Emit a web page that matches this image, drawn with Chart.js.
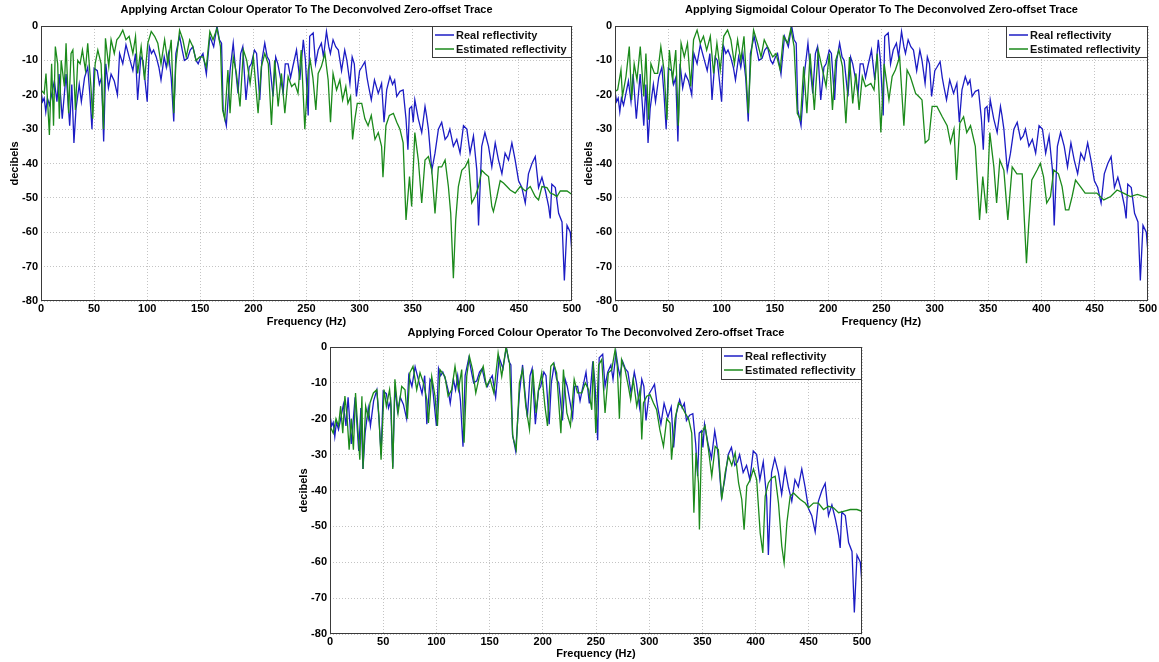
<!DOCTYPE html>
<html>
<head>
<meta charset="UTF-8">
<title>Colour operators - deconvolved zero-offset trace</title>
<script src="https://cdn.jsdelivr.net/npm/chart.js@4.4.0/dist/chart.umd.min.js"></script>
<style>
body { margin:0; background:#fff; width:1159px; height:662px; overflow:hidden; position:relative; }
canvas { position:absolute; }
</style>
</head>
<body>
<canvas id="c1" width="585" height="330" style="left:0;top:0"></canvas>
<canvas id="c2" width="585" height="330" style="left:574px;top:0"></canvas>
<canvas id="c3" width="585" height="337" style="left:289px;top:325px"></canvas>
<script>
// real reflectivity (same in the three panels)
var realFreq = [0,1.5,3,4.5,6,8,10,12.6,15,17, 20,23.6,25,27,29,31,33,36,38,41, 44,46,48,50,53,55,57,59,61,63.5,
  66,69,72,74,77,80,83,86.5,89,91, 94,96,98,100,102,104,106,108.5,111,113, 116,118,120,122.6,125,127,130.5,133,135,138,
  140.5,143,146,148,150.5,152.5,155.7,159,162.6,165.7, 168,170,171.5,174.5,178,181,183,185.5,188,190,
  193,196,198,201,203,206,208,210.7,213,215, 218.5,221,223,226,228,230,232.7,235,237,240.6,
  243.7,247,249,251.6,253,256.3,258.5,261,264,266, 268.8,271,272.5,275,277.5,280,283,286,288,290.9,
  293,295,297,300,302,305,307,308.5,311,314, 317.6,320.7,323,325.5,328.6,331,333,335,338,341,
  343.7,345.5,347,349,350.5,352,355.3,358.5,361.6,363, 364.8,368,371,374.2,377.3,380.5,383,385,388.3,391.5,
  394.6,397.8,401,404,407.2,410.4,412,415,418,421.4, 424.5,427.7,430.8,434,437,440.2,443.4,446.5,449.7,452.8,
  456,459,462.3,465.4,468.5,471.7,475,478,479.5,481, 484.3,487.4,490.6,492.8,495.3,498.4,500];
var realDb = [-19,-22,-21,-25,-21,-23,-20,-16,-22,-14, -27,-14,-20,-29,-17,-34,-24,-17,-22,-15, -12,-20,-30,-12.3,-13,-17,-15,-33.6,-11,-18,
  -14,-16,-20,-8,-11,-5.5,-9,-13,-8,-21.5, -9,-10,-16,-22,-6,-8,-7,-9,-12,-15.7, -9,-12,-8,-15,-27.8,-8,-3,-7,-10,-9.4,
  -7,-6,-10,-11,-9,-8,-14,-3,-6,0, -4,-5,-24.4,-29,-13,-5,-12,-19.6,-8,-6,
  -21.5,-12,-11,-7,-8,-21.5,-10,-5,-9,-10, -20.5,-9,-11,-16,-19.6,-11,-11,-15,-12,-7,
  -15.7,-4,-10,-26,-3,-2,-11,-7,-5,-9, -1.6,-6,-8,-4,-6,-7,-13,-7,-10,-16.7,
  -9,-11,-20.5,-13,-12,-10.4,-15,-17.6,-21.5,-15.7, -19.6,-16.7,-28,-18.6,-14.7,-17,-15.7,-20.5,-19,-18.6,
  -27,-36,-24,-23.4,-28,-21.5,-27,-31,-23.4,-26, -30,-42,-37,-30,-28,-33,-32,-30,-35,-33,
  -37,-29,-30,-37,-32,-42,-58,-35,-31,-35, -41,-34,-39,-43,-37,-39,-34,-39,-45,-47,
  -51.5,-43,-40,-38,-47,-44,-48,-52.5,-56,-46, -47,-54.5,-57,-74,-58,-60,-66];

// estimated reflectivity, arctan operator
var arctanFreq = [0,3,4.7,6.3,7.9,10,11.8,13.5,15.7,17.3, 19,22,23.6,26,28.3,30,32.4,34.6,36.8,39,
  41.8,44,47,48.7,51,53.5,56.6,58.8,60.7,63.8, 66,69,71.4,74,77,80,83,86.5,89,91,
  94.3,97.5,100.6,103.8,107,110,113,116.4,119.5,122.6, 125,127,130.5,133.6,136.8,140,143,146,149.4,152.5,
  155.7,159,162,165.7,169,171,173,176,178,181, 184,187.4,190.6,193.7,196.9,200,204.4,207.5,210.7,214,
  217,220,223.3,226.4,229.6,232.7,236,239,242,245, 248.4,251.6,253.5,256,258.8,261,264,267.3,270.4,272.6,
  275,278.3,281.4,284,287,289,291.5,293.4,295.6,297.8, 302,305,308,311,314.5,317.6,320.7,322,324.8,328,
  331.8,335,338,341,343.7,347,349,352,355.3,358.5, 361.6,364.8,368,371,374.2,377.3,380.5,383.6,385.8,388.3,
  390.5,393,396.2,399.4,402.5,405.6,408.8,412,415,418.2, 421.4,424.5,426,429.3,432.4,435.5,438.7,441.8,446.5,451.3,
  456,460.7,465.4,468.5,471.7,476.4,479.5,482.7,485.8,489, 495.3,500];
var arctanDb = [-18.6,-19.6,-13.8,-22.5,-31.7,-11,-29,-6,-11,-27, -10,-17.6,-5,-25.4,-8,-7,-24.4,-10,-11,-7,
  -12.8,-5,-17.6,-27,-11,-7,-11,-30,-3.6,-11.8, -4,-8,-4,-3,-1.2,-4,-3,-8,-3,-13.8,
  -6,-15.7,-5,-1.6,-3,-5,-11,-4,-11,-4, -25.4,-11,-1.2,-4,-9,-4,-6,-10,-9,-9,
  -12,-1.6,-4,-0.7,-6,-24.4,-27,-12.8,-25.4,-9, -13.8,-23.4,-7,-10,-16.7,-9,-25.4,-11.8,-8,-11,
  -28.8,-10,-23.4,-13.8,-25.4,-14.7,-17.6,-16.7,-19.6,-7, -30,-12.8,-10,-15,-24.4,-13.8,-11.8,-8,-15.7,-28,
  -13.8,-18.6,-15.7,-21.5,-17.6,-22.5,-20.5,-33,-27,-22.5, -22.5,-27,-29,-26,-33,-31,-35,-44,-29,-26,
  -25.4,-28,-30,-34,-56.4,-43.8,-52.5,-31,-39,-51.5, -39,-38,-42,-54.5,-41,-41,-39,-46.7,-54.5,-73.4,
  -56.4,-46.7,-42,-41,-39,-51.5,-49.6,-46.7,-42,-43, -43.8,-52.5,-54,-49.6,-45,-45.7,-46.7,-47.7,-48.6,-46.7,
  -48,-46.7,-49.6,-50.6,-46.7,-47,-48.6,-49,-49.6,-48, -48,-49];

// estimated reflectivity, sigmoidal operator
var sigmoidFreq = [0,2.5,5.6,7,10.3,13.4,15.6,18,20.6,23.7, 27,29,31.5,33.7,37,40,43,46,48.7,51,
  54,57,59.4,62,65,68,71,73.7,77,80, 83,86,89.4,92.5,95.6,98.7,102,105.6,108.7,112,
  115,118,121,125,127.5,130,133.7,137,140,143, 148,151,155,158,162,165,168,171,174,177,
  180,183,187,190.6,194,198,201,204,207,210, 213.4,216.6,220,223,226,229,232,235,240,243,
  246,249.4,252.5,257,260,263,267,271,274,277, 282,285,288,291,294.4,297.5,302,307,311.6,314.7,
  318,320.4,323.5,327,330,333.5,338,342,345,348.5, 351.6,355.4,358,361,364.8,368.5,372.6,377,382,384,
  386,388,391,396,399,402,405,408.5,411.6,416, 419.4,422.6,425.7,428.8,432,436.6,441,446,452,458.5,
  465,471,477,483.5,490,500];
var sigmoidDb = [-19,-18.6,-12.8,-20.5,-14.7,-6,-21.5,-11,-15.7,-6, -20.5,-8,-27.3,-11,-13.8,-13.8,-6,-12.8,-27.3,-7,
  -15.7,-7,-29,-5,-9,-5,-17.6,-4,-1.2,-5, -3,-7,-3,-13.8,-5,-12.8,-3,-1.2,-4,-11,
  -4,-10,-3,-25.4,-9,-1.2,-5,-9,-4,-6, -9,-8,-12.8,-3,-5,-0.7,-6,-25.4,-27.3,-11.8,
  -25.4,-8,-24.4,-7,-11.8,-17.6,-8,-24.4,-10,-7, -11.8,-28.3,-9,-22.5,-13.8,-24.4,-14.7,-17.6,-16.7,-18.6,
  -8,-31,-11,-21.5,-14.7,-12.8,-9,-29,-12.8,-14.7, -19.6,-20.5,-21.5,-34,-33,-23.4,-23.4,-26.4,-29,-34,
  -30,-44.8,-28.3,-26.4,-31,-29,-35,-56.4,-43.8,-54.5, -31,-41,-51.5,-39,-42,-56.4,-41,-43,-43,-56.4,
  -69,-58.3,-44.8,-41.9,-40,-43.8,-51.5,-49.6,-41.9,-43, -46.7,-53.5,-53.5,-49.6,-44.8,-46.7,-48.6,-48.6,-48.6,-50.6,
  -49.6,-47.7,-48.6,-49.6,-49,-50];

// estimated reflectivity, forced operator
var forcedFreq = [0,3,5.6,8,10,12,14,16,18,20, 22,24,26.6,28,30,31,33.5,36,37.6,40.8,
  44,46,48,50.8,53,56,57.4,59,61,64, 67.4,70.5,72.7,75,78,81.5,84.6,87.8,91,92.5,
  95.6,98.7,101,103.4,108,111,114.4,117.5,120.7,123.8, 126,128.5,131,134,137,140.4,144,147,150.5,154,
  158,161.4,165.5,168.7,171.8,175,178,181,184,187.5, 190.6,193.7,196,199,202,204.4,207.5,210,213,217,
  219.4,222.6,226,229.5,232.6,236.7,240,243,246,247.5, 249.8,252.5,255.4,258.5,261.6,264.8,268,270,272,274,
  277.3,280.4,282.6,285,288.3,291.4,293,294.6,297.7,300.8, 304,307,310,313.4,316.5,319.6,321,324.3,327.5,330.6,
  333.7,337,340,342,344,346.3,347.2,349.4,352.5,355.7, 358.8,362,365,368.2,371.4,374.5,377.6,380.8,384,387,
  389.2,391.7,394.9,398,401,404.3,406.8,409,412,415.2, 418.4,421.5,424.6,426.8,429.4,432.5,435.6,438.8,442,446.6,
  449.7,454.4,459,463.8,468.5,473.2,478,482.6,489,495.2, 500];
var forcedDb = [-22,-24,-20,-22,-16.5,-24,-13.7,-19.3,-28.6,-20, -28.6,-12.8,-24.9,-31.4,-13.7,-34,-16.5,-20,-15.6,-12.8,
  -11.9,-19.3,-31.4,-11.9,-16.5,-11.9,-16.5,-34,-9,-18.4, -11,-11.9,-20,-7.2,-5.4,-11.9,-7.2,-10,-14.7,-21.2,
  -8.2,-13.7,-22,-6.3,-8.2,-13.7,-11.9,-5.4,-11.9,-6.3, -26.7,-8.2,-2.6,-6.3,-12.8,-8.2,-5.4,-11,-9,-12.8,
  -1.7,-8.2,0,-4.5,-24.9,-28.6,-10,-6.3,-16.5,-23, -6.3,-18.4,-11.9,-7.2,-16.5,-22,-5.4,-4.5,-7.2,-24,
  -6.3,-18.4,-22,-9,-12.8,-12.8,-10,-11.9,-17.5,-4, -24,-5,-3.5,-18.4,-7.2,-6.3,-0.7,-5.4,-20,-3.5,
  -6.3,-11,-14.7,-9,-16.5,-11.9,-25.8,-15.6,-13.7,-13.3, -15.6,-17.5,-23,-27.7,-20,-21.2,-31.4,-20,-15.6,-16.5,
  -18.4,-20,-24,-46.2,-29.5,-37.9,-50.9,-24,-22,-28.6, -36,-27.7,-28.6,-42.5,-35,-30.5,-33,-29.5,-37.9,-42.5,
  -50.9,-38.8,-37,-34,-37,-51.8,-57.4,-41.6,-37.9,-36.5, -36,-43.5,-55.5,-60.2,-49,-41.6,-40.7,-41.6,-42.5,-43.5,
  -44.8,-43.5,-43.5,-45.3,-44.4,-44.8,-46.2,-45.8,-45.3,-45.3, -45.8];

var seriesNames = ['Real reflectivity', 'Estimated reflectivity'];
var seriesColors = ['#1c1cc4', '#1b8a1b'];

var FONT = '"Liberation Sans", Arial, sans-serif';
Chart.defaults.font.family = FONT;

function toPoints(fx, vy) {
  var pts = [];
  for (var i = 0; i < fx.length; i++) pts.push({x: fx[i], y: vy[i]});
  return pts;
}

// box round the axes, title and legend (matlab look)
var decoPlugin = {
  id: 'deco',
  afterDraw: function(chart, args, o) {
    var a = chart.chartArea, ctx = chart.ctx;
    ctx.save();
    ctx.setLineDash([]);
    ctx.strokeStyle = '#3a3a3a';
    ctx.lineWidth = 1;
    ctx.strokeRect(a.left + 0.5, a.top + 0.5, a.right - a.left - 1, a.bottom - a.top - 1);

    ctx.fillStyle = '#000';
    ctx.font = 'bold 11px ' + FONT;
    ctx.textAlign = 'center';
    ctx.textBaseline = 'middle';
    ctx.fillText(o.title, (a.left + a.right) / 2, o.titleY, o.titleW);

    // legend box
    var lx = a.right - o.legW, ly = a.top;
    ctx.fillStyle = '#fff';
    ctx.fillRect(lx, ly, o.legW, o.legH);
    ctx.strokeRect(lx + 0.5, ly + 0.5, o.legW - 1, o.legH - 1);
    ctx.textAlign = 'left';
    for (var i = 0; i < seriesNames.length; i++) {
      var yy = ly + 9 + i * 14;
      ctx.strokeStyle = seriesColors[i];
      ctx.lineWidth = 1.5;
      ctx.beginPath();
      ctx.moveTo(lx + 3, yy);
      ctx.lineTo(lx + 22, yy);
      ctx.stroke();
      ctx.fillStyle = '#111';
      ctx.fillText(seriesNames[i], lx + 24, yy + 1);
    }
    ctx.restore();
  }
};

function makePanel(id, estF, estV, deco, padTop, padRight, xAxisH) {
  var ctx = document.getElementById(id).getContext('2d');
  return new Chart(ctx, {
    type: 'line',
    data: {
      datasets: [{
        label: seriesNames[0],
        data: toPoints(realFreq, realDb),
        borderColor: seriesColors[0],
        borderWidth: 1.3,
        pointRadius: 0,
        order: 1
      }, {
        label: seriesNames[1],
        data: toPoints(estF, estV),
        borderColor: seriesColors[1],
        borderWidth: 1.3,
        pointRadius: 0,
        order: 0
      }]
    },
    options: {
      responsive: false,
      animation: false,
      layout: { padding: { top: padTop, right: padRight, left: 0, bottom: 0 } },
      plugins: { legend: { display: false }, tooltip: { enabled: false }, deco: deco },
      scales: {
        x: {
          type: 'linear', min: 0, max: 500,
          afterFit: function(s) { s.height = xAxisH; s.paddingLeft = 0; s.paddingRight = 0; },
          ticks: { stepSize: 50, color: '#000', font: { weight: 'bold', size: 11 }, padding: 1, maxRotation: 0, autoSkip: false },
          grid: { color: '#c4c4c4', drawTicks: false },
          border: { display: false, dash: [1, 2] },
          title: { display: true, text: 'Frequency (Hz)', color: '#000', font: { weight: 'bold', size: 11 }, padding: { top: 0, bottom: 1 } }
        },
        y: {
          min: -80, max: 0,
          afterFit: function(s) { s.width = 41; s.paddingTop = 0; s.paddingBottom = 0; },
          ticks: { stepSize: 10, color: '#000', font: { weight: 'bold', size: 11 }, padding: 3 },
          grid: { color: '#c4c4c4', drawTicks: false },
          border: { display: false, dash: [1, 2] },
          title: { display: true, text: 'decibels', color: '#000', font: { weight: 'bold', size: 11 }, padding: { top: 8, bottom: 0 } }
        }
      }
    },
    plugins: [decoPlugin]
  });
}

makePanel('c1', arctanFreq, arctanDb,
  { title: 'Applying Arctan Colour Operator To The Deconvolved Zero-offset Trace', titleY: 10, titleW: 372, legW: 140, legH: 32 },
  26, 13, 29);
makePanel('c2', sigmoidFreq, sigmoidDb,
  { title: 'Applying Sigmoidal Colour Operator To The Deconvolved Zero-offset Trace', titleY: 10, titleW: 404, legW: 142, legH: 32 },
  26, 11, 29);
makePanel('c3', forcedFreq, forcedDb,
  { title: 'Applying Forced Colour Operator To The Deconvolved Zero-offset Trace', titleY: 8, titleW: 413, legW: 141, legH: 33 },
  22, 12, 28);
</script>
</body>
</html>
